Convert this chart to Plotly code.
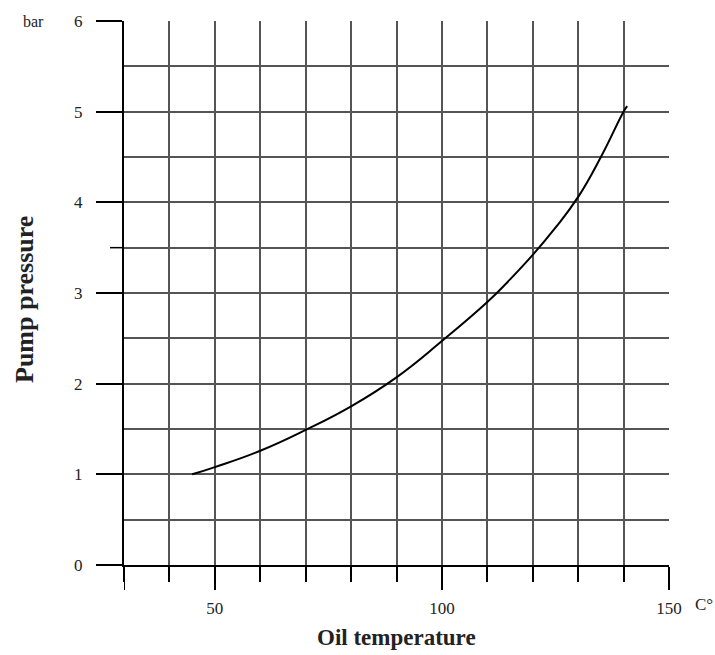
import plotly.graph_objects as go

# Oil temperature (°C) vs. pump pressure (bar)
oil_temp = [45, 50, 60, 70, 80, 90, 100, 110, 115, 120, 125, 130, 135, 140, 140.8]
pump_pressure = [1.0, 1.08, 1.26, 1.49, 1.75, 2.07, 2.47, 2.90, 3.15, 3.42, 3.72, 4.06, 4.50, 5.0, 5.06]

x_range = [30, 150]
y_range = [0, 6]
x_major_ticks = [50, 100, 150]
y_major_ticks = [0, 1, 2, 3, 4, 5, 6]

FONT = "Liberation Serif"
TEXT = "#222222"
GRID = "#555555"

fig = go.Figure()
fig.add_trace(go.Scatter(
    x=oil_temp, y=pump_pressure, mode="lines",
    line=dict(color="black", width=2, shape="spline", smoothing=1.3),
    hoverinfo="skip", showlegend=False,
))

fig.update_layout(
    width=715, height=655,
    margin=dict(l=124, r=46, t=21, b=90),
    paper_bgcolor="white", plot_bgcolor="white",
    font=dict(family=FONT, color=TEXT, size=17),
    showlegend=False,
)

fig.update_xaxes(
    range=x_range, tickmode="array", tickvals=x_major_ticks,
    ticks="outside", ticklen=23, tickwidth=1.5, tickcolor="black",
    ticklabelstandoff=4,
    showgrid=True, gridcolor=GRID, gridwidth=1.5,
    showline=True, linecolor="black", linewidth=2,
    zeroline=False,
    minor=dict(dtick=10, tick0=0, ticks="outside", ticklen=15,
               tickwidth=1.5, tickcolor="black",
               showgrid=True, gridcolor=GRID, gridwidth=1.5),
    tickfont=dict(family=FONT, size=17, color=TEXT),
    fixedrange=True,
)

fig.update_yaxes(
    range=y_range, tickmode="array", tickvals=y_major_ticks,
    ticks="outside", ticklen=26, tickwidth=1.5, tickcolor="black",
    ticklabelstandoff=10,
    showgrid=True, gridcolor=GRID, gridwidth=1.5,
    showline=True, linecolor="black", linewidth=2,
    zeroline=False,
    minor=dict(dtick=0.5, tick0=0, ticks="", showgrid=True,
               gridcolor=GRID, gridwidth=1.5),
    tickfont=dict(family=FONT, size=17, color=TEXT),
    fixedrange=True,
)

plot_w = 715 - 124 - 46
plot_h = 655 - 21 - 90

# extra ticks: the y-axis line runs below the baseline, short tick at 3.5
fig.add_shape(type="line", xref="x", yref="paper",
              x0=x_range[0], x1=x_range[0], y0=0, y1=-25 / plot_h,
              line=dict(color="black", width=2))
fig.add_shape(type="line", xref="paper", yref="y",
              x0=-14 / plot_w, x1=0, y0=3.5, y1=3.5,
              line=dict(color="black", width=1.5))

# units and axis titles
fig.add_annotation(text="bar", xref="paper", yref="y", x=-103 / plot_w, y=y_range[1],
                   xanchor="left", yanchor="middle", showarrow=False,
                   font=dict(family=FONT, size=16, color=TEXT))
fig.add_annotation(text="C°", xref="x", yref="paper", x=x_range[1], y=-39 / plot_h,
                   xshift=24, xanchor="left", yanchor="middle", showarrow=False,
                   font=dict(family=FONT, size=17, color=TEXT))
fig.add_annotation(text="<b>Oil temperature</b>", xref="paper", yref="paper",
                   x=0.5, y=-72 / plot_h, xanchor="center", yanchor="middle",
                   showarrow=False, font=dict(family=FONT, size=23, color=TEXT))
fig.add_annotation(text="<b>Pump pressure</b>", xref="paper", yref="paper",
                   x=-100 / plot_w, y=(565 - 300) / plot_h, xanchor="center",
                   yanchor="middle", textangle=-90, showarrow=False,
                   font=dict(family=FONT, size=26, color=TEXT))

fig.write_html("out.html")
